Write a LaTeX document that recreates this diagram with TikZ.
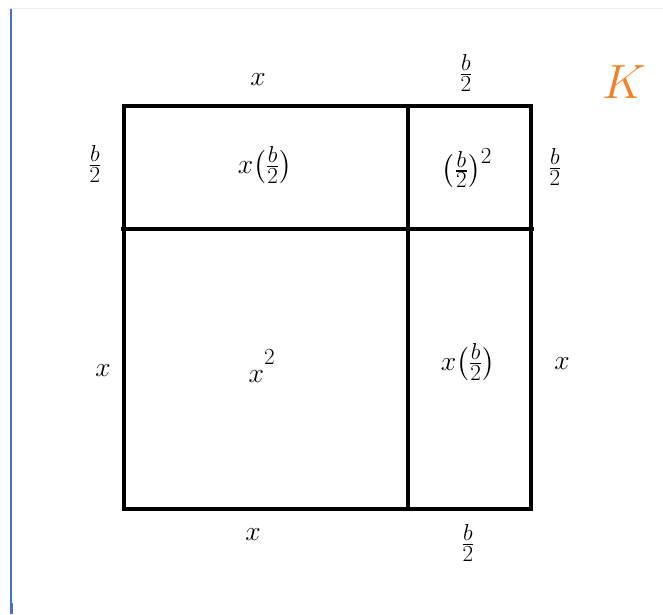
\documentclass[tikz,border=0pt]{standalone}
\usepackage{amsmath}
\DeclareMathSizes{22}{22}{17}{12}
\definecolor{korange}{RGB}{245,128,38}
\definecolor{edgeblue}{RGB}{68,114,196}
\definecolor{faintgray}{RGB}{238,238,238}
\tikzset{
  lbl/.style={inner sep=0pt, font=\fontsize{22}{26}\selectfont},
  wall/.style={line width=2.6pt},
}
\begin{document}
\begin{tikzpicture}[x=0.75pt,y=-0.75pt]
\useasboundingbox (0,0) rectangle (663,614);
% page edges
\draw[faintgray, line width=0.75pt] (11,8) -- (663,8);
\draw[edgeblue, line width=0.9pt] (11,9) -- (11,614);
\draw[edgeblue, line width=1.8pt] (11.5,603) -- (11.5,614);
% square
\coordinate (tl) at (124,106);
\coordinate (br) at (531,509);
\coordinate (vt) at (408,106);
\coordinate (vb) at (408,509);
\coordinate (hl) at (121,229);
\coordinate (hr) at (534,229);
\draw[wall] (tl) rectangle (br);
\draw[wall] (vt) -- (vb);
\draw[wall] (hl) -- (hr);
% labels
\node[lbl] (topx) at (258,80) {$x$};
\node[lbl] (topb) at (466,73) {$\frac{b}{2}$};
\node[lbl] (leftb) at (95,164) {$\frac{b}{2}$};
\node[lbl] (rightb) at (555,167) {$\frac{b}{2}$};
\node[lbl] (cellxb) at (265,165) {$x\bigl(\frac{b}{2}\bigr)$};
\node[lbl] (cellbb) at (467,168) {$\bigl(\frac{b}{2}\bigr)^{2}$};
\node[lbl] (leftx) at (103,371) {$x$};
\node[lbl] (cellxx) at (262,366) {$x^{\raisebox{6pt}{$\scriptstyle 2$}}$};
\node[lbl] (cellxb2) at (468,362) {$x\bigl(\frac{b}{2}\bigr)$};
\node[lbl] (rightx) at (562,364) {$x$};
\node[lbl] (botx) at (253,535) {$x$};
\node[lbl] (botb) at (468,543) {$\frac{b}{2}$};
\node[inner sep=0pt, text=korange, font=\fontsize{24.88}{30}\selectfont, scale=1.45] (K) at (624,82) {$K$};
\end{tikzpicture}
\end{document}
